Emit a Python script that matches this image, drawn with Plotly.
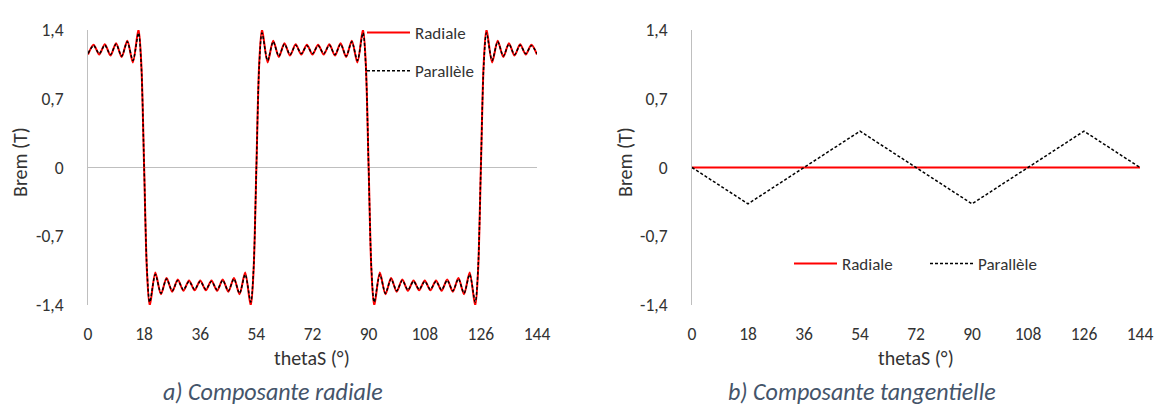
import plotly.graph_objects as go

# ---------------- data ----------------
# a) radial component: samples at the ripple extremes (every 1.8 deg) plus points near each edge
theta_a = [0, 1.8, 3.6, 5.4, 7.2, 9, 10.8, 12.6, 14.4, 16.2, 17.1, 18, 18.9,
           19.8, 21.6, 23.4, 25.2, 27, 28.8, 30.6, 32.4, 34.2, 36, 37.8, 39.6, 41.4, 43.2, 45, 46.8, 48.6, 50.4, 52.2,
           53.1, 54, 54.9,
           55.8, 57.6, 59.4, 61.2, 63, 64.8, 66.6, 68.4, 70.2, 72, 73.8, 75.6, 77.4, 79.2, 81, 82.8, 84.6, 86.4, 88.2,
           89.1, 90, 90.9,
           91.8, 93.6, 95.4, 97.2, 99, 100.8, 102.6, 104.4, 106.2, 108, 109.8, 111.6, 113.4, 115.2, 117, 118.8, 120.6, 122.4, 124.2,
           125.1, 126, 126.9,
           127.8, 129.6, 131.4, 133.2, 135, 136.8, 138.6, 140.4, 142.2, 144]

radiale_a = [1.15, 1.25, 1.15, 1.255, 1.14, 1.265, 1.125, 1.29, 1.07, 1.41, 1.05, 0, -1.05,
             -1.41, -1.07, -1.29, -1.125, -1.265, -1.14, -1.255, -1.15, -1.25, -1.15, -1.25, -1.15, -1.255, -1.14, -1.265, -1.125, -1.29, -1.07, -1.41,
             -1.05, 0, 1.05,
             1.41, 1.07, 1.29, 1.125, 1.265, 1.14, 1.255, 1.15, 1.25, 1.15, 1.25, 1.15, 1.255, 1.14, 1.265, 1.125, 1.29, 1.07, 1.41,
             1.05, 0, -1.05,
             -1.41, -1.07, -1.29, -1.125, -1.265, -1.14, -1.255, -1.15, -1.25, -1.15, -1.25, -1.15, -1.255, -1.14, -1.265, -1.125, -1.29, -1.07, -1.41,
             -1.05, 0, 1.05,
             1.41, 1.07, 1.29, 1.125, 1.265, 1.14, 1.255, 1.15, 1.25, 1.15]

parallele_a = [1.16, 1.24, 1.16, 1.245, 1.15, 1.255, 1.135, 1.28, 1.09, 1.37, 1.03, 0, -1.03,
               -1.37, -1.09, -1.28, -1.135, -1.255, -1.15, -1.245, -1.16, -1.24, -1.16, -1.24, -1.16, -1.245, -1.15, -1.255, -1.135, -1.28, -1.09, -1.37,
               -1.03, 0, 1.03,
               1.37, 1.09, 1.28, 1.135, 1.255, 1.15, 1.245, 1.16, 1.24, 1.16, 1.24, 1.16, 1.245, 1.15, 1.255, 1.135, 1.28, 1.09, 1.37,
               1.03, 0, -1.03,
               -1.37, -1.09, -1.28, -1.135, -1.255, -1.15, -1.245, -1.16, -1.24, -1.16, -1.24, -1.16, -1.245, -1.15, -1.255, -1.135, -1.28, -1.09, -1.37,
               -1.03, 0, 1.03,
               1.37, 1.09, 1.28, 1.135, 1.255, 1.15, 1.245, 1.16, 1.24, 1.16]

# b) tangential component
theta_b = [0, 18, 36, 54, 72, 90, 108, 126, 144]
radiale_b = [0, 0, 0, 0, 0, 0, 0, 0, 0]
parallele_b = [0, -0.37, 0, 0.37, 0, -0.37, 0, 0.37, 0]

x_ticks = [0, 18, 36, 54, 72, 90, 108, 126, 144]
y_ticks = [-1.4, -0.7, 0, 0.7, 1.4]
y_ticktext = ["-1,4", "-0,7", "0", "0,7", "1,4"]

# ---------------- style ----------------
FONT = "Carlito, Lato, sans-serif"
TXT = "#333333"
AX = "#BFBFBF"
RED = "#FF0000"
BLK = "#000000"
W, H = 1157, 410


def px(x):
    return x / W


def py(y):
    return (H - y) / H


fig = go.Figure()

fig.add_trace(go.Scatter(x=theta_a, y=radiale_a, name="Radiale", mode="lines",
                         line=dict(color=RED, width=2, shape="spline", smoothing=0.8),
                         xaxis="x", yaxis="y", legend="legend", legendgroup="a1"))
fig.add_trace(go.Scatter(x=theta_a, y=parallele_a, name="Parallèle", mode="lines",
                         line=dict(color=BLK, width=1.5, dash="3px,2px", shape="spline", smoothing=0.8),
                         xaxis="x", yaxis="y", legend="legend", legendgroup="a2"))
fig.add_trace(go.Scatter(x=theta_b, y=radiale_b, name="Radiale", mode="lines",
                         line=dict(color=RED, width=2),
                         xaxis="x2", yaxis="y2", legend="legend2"))
fig.add_trace(go.Scatter(x=theta_b, y=parallele_b, name="Parallèle", mode="lines",
                         line=dict(color=BLK, width=1.5, dash="3px,2px"),
                         xaxis="x2", yaxis="y2", legend="legend2"))

ydom = [py(305), py(30)]
xdom1 = [px(88), px(537)]
xdom2 = [px(692), px(1140)]

xa = dict(range=[0, 144], tickvals=x_ticks, showgrid=False, zeroline=False, showline=False,
          ticks="", ticklabelstandoff=16, automargin=False,
          tickfont=dict(family=FONT, size=17.5, color=TXT), fixedrange=True)
ya = dict(range=[-1.4, 1.4], tickvals=y_ticks, ticktext=y_ticktext, showgrid=False,
          zeroline=True, zerolinecolor=AX, zerolinewidth=1, automargin=False,
          showline=True, linecolor=AX, linewidth=1, ticks="", ticklabelstandoff=20,
          tickfont=dict(family=FONT, size=17.5, color=TXT), fixedrange=True)

fig.update_layout(
    width=W, height=H,
    margin=dict(l=0, r=0, t=0, b=0, autoexpand=False),
    paper_bgcolor="white", plot_bgcolor="white",
    font=dict(family=FONT, color=TXT),
    xaxis=dict(domain=xdom1, anchor="y", **xa),
    yaxis=dict(domain=ydom, anchor="x", **ya),
    xaxis2=dict(domain=xdom2, anchor="y2", **xa),
    yaxis2=dict(domain=ydom, anchor="x2", **ya),
    legend=dict(x=px(362), y=py(15), xanchor="left", yanchor="top",
                orientation="v", tracegroupgap=13, itemwidth=43, bgcolor="rgba(0,0,0,0)",
                font=dict(family=FONT, size=17, color=TXT)),
    legend2=dict(x=px(789), y=py(264), xanchor="left", yanchor="middle",
                 orientation="h", itemwidth=43, entrywidth=78, entrywidthmode="pixels",
                 bgcolor="rgba(0,0,0,0)",
                 font=dict(family=FONT, size=17, color=TXT)),
    showlegend=True,
)

for xp in (312, 916):
    fig.add_annotation(text="thetaS (°)", xref="paper", yref="paper", x=px(xp), y=py(358),
                       showarrow=False, xanchor="center", yanchor="middle",
                       font=dict(family=FONT, size=20, color=TXT))
for xp in (20, 625):
    fig.add_annotation(text="Brem (T)", xref="paper", yref="paper", x=px(xp), y=py(162),
                       showarrow=False, textangle=-90, xanchor="center", yanchor="middle",
                       font=dict(family=FONT, size=20, color=TXT))
fig.add_annotation(text="<i>a) Composante radiale</i>", xref="paper", yref="paper", x=px(273), y=py(391),
                   showarrow=False, xanchor="center", yanchor="middle",
                   font=dict(family=FONT, size=24, color="#44546A"))
fig.add_annotation(text="<i>b) Composante tangentielle</i>", xref="paper", yref="paper", x=px(862), y=py(391),
                   showarrow=False, xanchor="center", yanchor="middle",
                   font=dict(family=FONT, size=24, color="#44546A"))

fig.write_html("out.html", config={"displayModeBar": False, "staticPlot": True},
               post_script="document.body.style.margin='0';document.body.style.overflow='hidden';")
